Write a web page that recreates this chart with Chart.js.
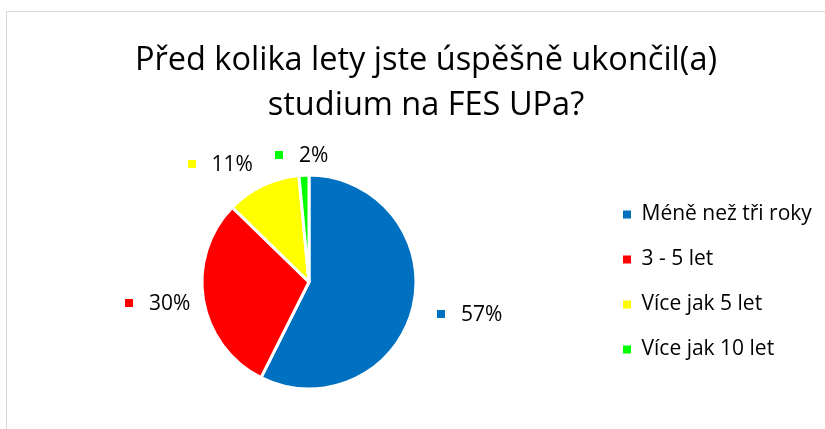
<!DOCTYPE html>
<html><head><meta charset="utf-8">
<script src="https://cdn.jsdelivr.net/npm/chart.js@4/dist/chart.umd.min.js"></script>
<style>
html,body{margin:0;padding:0;background:#fff;overflow:hidden;width:825px;height:429px;}
#frame{position:absolute;left:6px;top:11px;width:900px;height:500px;border:1px solid #d9d9d9;box-sizing:border-box;}
#wrap{position:absolute;left:7px;top:12px;}
</style></head><body>
<div id="frame"></div>
<div id="wrap"><canvas id="c" width="840" height="417"></canvas></div>
<script>
const titleLines = ['Před kolika lety jste úspěšně ukončil(a)', 'studium na FES UPa?'];
const categories = ['Méně než tři roky', '3 - 5 let', 'Více jak 5 let', 'Více jak 10 let'];
const shares = [57.4, 29.9, 11.2, 1.5];
const sliceColors = ['#0070C0', '#FF0000', '#FFFF00', '#00FF00'];

const FONT = '"Open Sans", Lato, sans-serif';
const LEGEND_SIZE = 21, LEGEND_PAD = 24, LEGEND_BOX = 8;
const RIGHT_BLOCK = 234; // legend + blank margin on the right of the plot

// width of the legend column (as Chart.js computes it), to size the blank right margin
const mctx = document.createElement('canvas').getContext('2d');
mctx.font = LEGEND_SIZE + 'px ' + FONT;
const legendTextW = Math.max(...categories.map(c => mctx.measureText(c).width));
const legendW = LEGEND_PAD + LEGEND_BOX + LEGEND_SIZE / 2 + legendTextW + 10;

const rightSpacer = {
  id: 'rightSpacer',
  beforeInit(chart) {
    const box = {
      position: 'right', weight: 1500, fullSize: false,
      options: { display: false },
      left: 0, top: 0, right: 0, bottom: 0, width: 0, height: 0,
      update(maxWidth, maxHeight) {
        this.width = Math.max(0, RIGHT_BLOCK - legendW);
        this.height = maxHeight;
      },
      isHorizontal() { return false; },
      draw() {}
    };
    Chart.layouts.addBox(chart, box);
  }
};

const sliceLabels = {
  id: 'sliceLabels',
  afterDatasetsDraw(chart, args, opts) {
    const ctx = chart.ctx;
    const meta = chart.getDatasetMeta(0);
    const total = shares.reduce((a, b) => a + b, 0);
    ctx.save();
    ctx.font = opts.size + 'px ' + FONT;
    ctx.textBaseline = 'middle';
    ctx.textAlign = 'left';
    meta.data.forEach((arc, i) => {
      const p = arc.getProps(['x', 'y', 'startAngle', 'endAngle', 'outerRadius'], true);
      const mid = (p.startAngle + p.endAngle) / 2;
      const d = p.outerRadius + opts.distance;
      const cx = p.x + Math.cos(mid) * d + opts.nudges[i][0];
      const cy = p.y + Math.sin(mid) * d + opts.nudges[i][1];
      const text = Math.round(shares[i] / total * 100) + '%';
      const tw = ctx.measureText(text).width;
      const w = opts.box + opts.gap + tw;
      const left = cx - w / 2;
      ctx.fillStyle = sliceColors[i];
      ctx.fillRect(Math.round(left), Math.round(cy - opts.box / 2), opts.box, opts.box);
      ctx.fillStyle = opts.color;
      ctx.fillText(text, left + opts.box + opts.gap, cy + 1);
    });
    ctx.restore();
  }
};

new Chart(document.getElementById('c'), {
  type: 'pie',
  data: {
    labels: categories,
    datasets: [{
      data: shares,
      backgroundColor: sliceColors,
      borderColor: '#ffffff',
      borderWidth: 3,
      radius: 107
    }]
  },
  options: {
    responsive: false,
    animation: false,
    layout: { padding: { left: 12, right: 14, top: 0, bottom: 12.8 } },
    plugins: {
      title: {
        display: true,
        text: titleLines,
        color: '#000000',
        font: { family: FONT, size: 32.5, weight: 'normal', lineHeight: 1.385 },
        padding: { top: 25.8, bottom: 20 }
      },
      legend: {
        position: 'right',
        align: 'center',
        fullSize: false,
        labels: {
          boxWidth: LEGEND_BOX,
          boxHeight: LEGEND_BOX,
          padding: LEGEND_PAD,
          color: '#000000',
          font: { family: FONT, size: LEGEND_SIZE },
          generateLabels(chart) {
            const items = Chart.overrides.pie.plugins.legend.labels.generateLabels(chart);
            items.forEach(it => { it.lineWidth = 0; it.strokeStyle = it.fillStyle; });
            return items;
          }
        }
      },
      tooltip: { enabled: false },
      sliceLabels: {
        size: 21,
        color: '#000000',
        box: 8,
        gap: 16,
        distance: 50,
        nudges: [[8, -4], [3.5, -5], [-21, 24], [0, 30]]
      }
    }
  },
  plugins: [rightSpacer, sliceLabels]
});
</script>
</body></html>
